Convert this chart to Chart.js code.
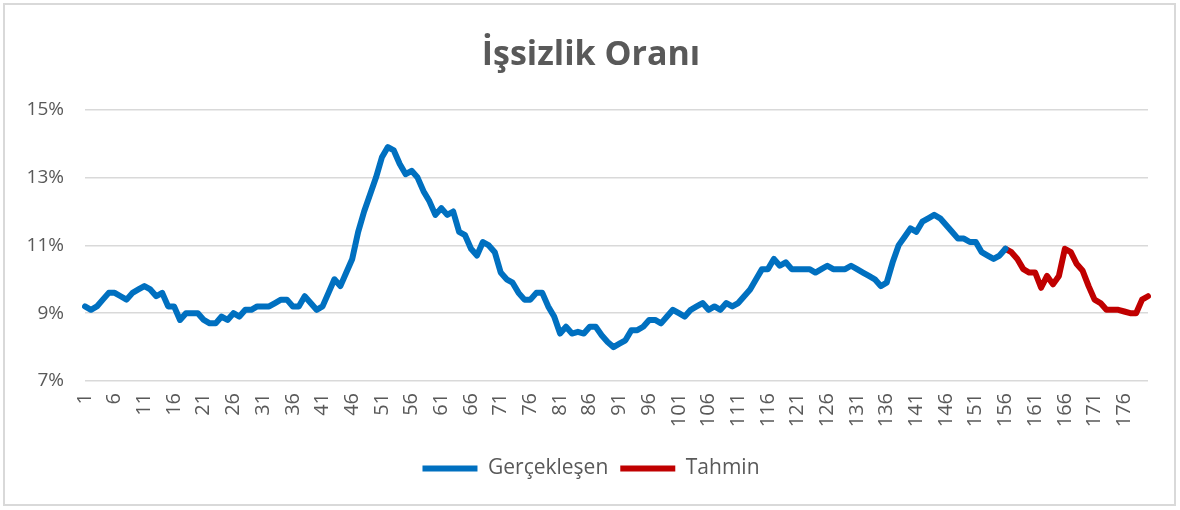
<!DOCTYPE html>
<html>
<head>
<meta charset="utf-8">
<script src="https://cdn.jsdelivr.net/npm/chart.js@4.4.0/dist/chart.umd.min.js"></script>
<style>
  html, body { margin: 0; padding: 0; background: #fff; }
</style>
</head>
<body>
<canvas id="chart" width="1180" height="510"></canvas>
<script>
// === Données ===
const TITLE = "İşsizlik Oranı";
const SERIES_NAMES = ["Gerçekleşen", "Tahmin"];

// Gerçekleşen : périodes 1..156
const actual = [
  9.2, 9.1, 9.2, 9.4, 9.6, 9.6, 9.5, 9.4, 9.6, 9.7,
  9.8, 9.7, 9.5, 9.6, 9.2, 9.2, 8.8, 9.0, 9.0, 9.0,
  8.8, 8.7, 8.7, 8.9, 8.8, 9.0, 8.9, 9.1, 9.1, 9.2,
  9.2, 9.2, 9.3, 9.4, 9.4, 9.2, 9.2, 9.5, 9.3, 9.1,
  9.2, 9.6, 10.0, 9.8, 10.2, 10.6, 11.4, 12.0, 12.5, 13.0,
  13.6, 13.9, 13.8, 13.4, 13.1, 13.2, 13.0, 12.6, 12.3, 11.9,
  12.1, 11.9, 12.0, 11.4, 11.3, 10.9, 10.7, 11.1, 11.0, 10.8,
  10.2, 10.0, 9.9, 9.6, 9.4, 9.4, 9.6, 9.6, 9.2, 8.9,
  8.4, 8.6, 8.4, 8.45, 8.4, 8.6, 8.6, 8.35, 8.15, 8.0,
  8.1, 8.2, 8.5, 8.5, 8.6, 8.8, 8.8, 8.7, 8.9, 9.1,
  9.0, 8.9, 9.1, 9.2, 9.3, 9.1, 9.2, 9.1, 9.3, 9.2,
  9.3, 9.5, 9.7, 10.0, 10.3, 10.3, 10.6, 10.4, 10.5, 10.3,
  10.3, 10.3, 10.3, 10.2, 10.3, 10.4, 10.3, 10.3, 10.3, 10.4,
  10.3, 10.2, 10.1, 10.0, 9.8, 9.9, 10.5, 11.0, 11.25, 11.5,
  11.4, 11.7, 11.8, 11.9, 11.8, 11.6, 11.4, 11.2, 11.2, 11.1,
  11.1, 10.8, 10.7, 10.6, 10.7, 10.9
];

// Tahmin : périodes 156..180 (premier point commun avec la série réelle)
const forecastStart = 156;
const forecast = [
  10.9, 10.8, 10.6, 10.3, 10.2, 10.2, 9.75, 10.1, 9.85, 10.1,
  10.9, 10.8, 10.45, 10.25, 9.8, 9.4, 9.3, 9.1, 9.1, 9.1,
  9.05, 9.0, 9.0, 9.4, 9.5
];

const periodCount = 180;
const categories = Array.from({ length: periodCount }, (_, i) => String(i + 1));
const yTicks = [7, 9, 11, 13, 15];

// === Séries complètes (avec trous) ===
const actualData = categories.map((_, i) => (i < actual.length ? actual[i] : null));
const forecastData = categories.map((_, i) => {
  const k = i - (forecastStart - 1);
  return k >= 0 && k < forecast.length ? forecast[k] : null;
});

// === Cadre gris autour du graphique ===
const framePlugin = {
  id: "frame",
  beforeDraw(chart) {
    const ctx = chart.ctx;
    ctx.save();
    ctx.fillStyle = "#ffffff";
    ctx.fillRect(0, 0, chart.width, chart.height);
    ctx.strokeStyle = "#d9d9d9";
    ctx.lineWidth = 2;
    ctx.strokeRect(4, 4, 1171, 501);
    ctx.restore();
  },
};

const TEXT = "#595959";
const FONT = "'Open Sans', 'Noto Sans', sans-serif";

new Chart(document.getElementById("chart"), {
  type: "line",
  data: {
    labels: categories,
    datasets: [
      {
        label: SERIES_NAMES[0],
        data: actualData,
        borderColor: "#0070c0",
        backgroundColor: "#0070c0",
        borderWidth: 6,
        pointRadius: 0,
        tension: 0,
        borderJoinStyle: "round",
        borderCapStyle: "round",
      },
      {
        label: SERIES_NAMES[1],
        data: forecastData,
        borderColor: "#c00000",
        backgroundColor: "#c00000",
        borderWidth: 6,
        pointRadius: 0,
        tension: 0,
        borderJoinStyle: "round",
        borderCapStyle: "round",
      },
    ],
  },
  options: {
    responsive: false,
    animation: false,
    layout: { padding: { left: 22, right: 20, top: 20, bottom: 21 } },
    plugins: {
      title: {
        display: true,
        text: TITLE,
        color: TEXT,
        font: { family: FONT, size: 34, weight: "bold" },
        padding: { top: 15, bottom: 34 },
      },
      legend: {
        position: "bottom",
        labels: {
          color: TEXT,
          font: { family: FONT, size: 21 },
          usePointStyle: true,
          pointStyle: "line",
          pointStyleWidth: 55,
          padding: 12,
        },
      },
      tooltip: { enabled: false },
    },
    scales: {
      x: {
        grid: { display: false },
        border: { display: false },
        afterFit(scale) { scale.height = 65; },
        ticks: {
          color: TEXT,
          font: { family: FONT, size: 20 },
          autoSkip: false,
          minRotation: 90,
          maxRotation: 90,
          padding: 4,
          callback(value, index) {
            return index % 5 === 0 ? categories[index] : "";
          },
        },
      },
      y: {
        min: yTicks[0],
        max: yTicks[yTicks.length - 1],
        afterFit(scale) { scale.width = 63; },
        afterBuildTicks(scale) { scale.ticks = yTicks.map(v => ({ value: v })); },
        grid: { color: "#d9d9d9", lineWidth: 1.5, drawTicks: false },
        border: { display: false },
        ticks: {
          color: TEXT,
          font: { family: FONT, size: 19 },
          padding: 21,
          callback(value) { return value + "%"; },
        },
      },
      // axe vide à droite, pour garder le titre centré sur la page
      spacer: {
        position: "right",
        display: true,
        grid: { display: false },
        border: { display: false },
        ticks: { display: false },
        afterFit(scale) { scale.width = 12; },
      },
    },
  },
  plugins: [framePlugin],
});
</script>
</body>
</html>
